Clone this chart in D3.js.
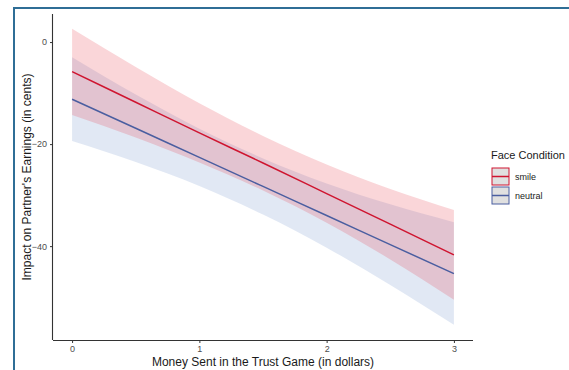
<!DOCTYPE html>
<html>
<head>
<meta charset="utf-8">
<script src="https://cdn.jsdelivr.net/npm/d3@7"></script>
<style>
  html, body { margin: 0; padding: 0; background: #fff; }
  svg { display: block; font-family: "Liberation Sans", Arial, Helvetica, sans-serif; }
</style>
</head>
<body>
<svg id="chart" width="569" height="370"></svg>
<script>
// Money sent (dollars) at which the fitted values and bands are given
const moneySent = [0, 0.5, 1, 1.5, 2, 2.5, 3];

// Fitted impact (cents) per face condition
const smileFit   = [-5.8, -11.8, -17.8, -23.7, -29.7, -35.7, -41.7];
const neutralFit = [-11.2, -16.9, -22.6, -28.3, -34.0, -39.7, -45.4];

// Confidence band bounds (cents)
const smileUpper   = [2.6, -4.9, -12.0, -18.4, -24.0, -28.8, -32.9];
const smileLower   = [-14.3, -18.7, -23.6, -29.1, -35.4, -42.6, -50.5];
const neutralUpper = [-3.0, -10.3, -17.0, -22.8, -27.7, -31.8, -35.3];
const neutralLower = [-19.4, -23.5, -28.2, -33.8, -40.3, -47.6, -55.4];

const xTicks = [0, 1, 2, 3];
const yTicks = [0, -20, -40];
const conditions = ["smile", "neutral"];

const svg = d3.select("#chart");

// outer frame
svg.append("path")
  .attr("d", "M14,371 L14,8 L570,8")
  .attr("fill", "none")
  .attr("stroke", "#2f6e96")
  .attr("stroke-width", 2);

const plot = { left: 53, right: 473, top: 14, bottom: 340 };

const x = d3.scaleLinear().domain([-0.15, 3.15]).range([plot.left, plot.right]);
const y = d3.scaleLinear().domain([-58.4, 5.5]).range([plot.bottom, plot.top]);

const series = [
  { name: "neutral", fit: neutralFit, lo: neutralLower, hi: neutralUpper,
    line: "#4a5ea0", fill: "#5a80c0", fillOpacity: 0.18 },
  { name: "smile", fit: smileFit, lo: smileLower, hi: smileUpper,
    line: "#cf1530", fill: "#e8303f", fillOpacity: 0.2 }
];

const area = d3.area()
  .x((d, i) => x(moneySent[i]))
  .y0(d => y(d[0]))
  .y1(d => y(d[1]))
  .curve(d3.curveMonotoneX);

const line = d3.line()
  .x((d, i) => x(moneySent[i]))
  .y(d => y(d))
  .curve(d3.curveMonotoneX);

series.forEach(s => {
  svg.append("path")
    .datum(s.lo.map((v, i) => [v, s.hi[i]]))
    .attr("d", area)
    .attr("fill", s.fill)
    .attr("fill-opacity", s.fillOpacity);
});
series.forEach(s => {
  svg.append("path")
    .datum(s.fit)
    .attr("d", line)
    .attr("fill", "none")
    .attr("stroke", s.line)
    .attr("stroke-width", 1.5);
});

// axes
const xAxis = d3.axisBottom(x).tickValues(xTicks).tickSize(3).tickPadding(3).tickFormat(d3.format("d"));
const yAxis = d3.axisLeft(y).tickValues(yTicks).tickSize(3).tickPadding(3).tickFormat(d3.format("d"));

const gx = svg.append("g").attr("transform", `translate(0,${plot.bottom})`).call(xAxis);
const gy = svg.append("g").attr("transform", `translate(${plot.left},0)`).call(yAxis);

[gx, gy].forEach(g => {
  g.select(".domain").attr("stroke", "#333").attr("stroke-width", 1.1);
  g.selectAll(".tick line").attr("stroke", "#333").attr("stroke-width", 1);
  g.selectAll(".tick text").attr("fill", "#4d4d4d").style("font-size", "9px")
    .style("font-family", "'Liberation Sans', Arial, sans-serif");
});
// run the axis lines across the whole panel
gx.select(".domain").attr("d", `M${plot.left},0.5H${plot.right}`);
gy.select(".domain").attr("d", `M-0.5,${plot.top}V${plot.bottom}`);

// axis titles
svg.append("text")
  .attr("x", (plot.left + plot.right) / 2)
  .attr("y", 366)
  .attr("text-anchor", "middle")
  .style("font-size", "12px")
  .attr("fill", "#1a1a1a")
  .text("Money Sent in the Trust Game (in dollars)");

svg.append("text")
  .attr("transform", `translate(31,${(plot.top + plot.bottom) / 2}) rotate(-90)`)
  .attr("text-anchor", "middle")
  .style("font-size", "12px")
  .attr("fill", "#1a1a1a")
  .text("Impact on Partner's Earnings (in cents)");

// legend
const legend = svg.append("g").attr("transform", "translate(491,0)");
legend.append("text")
  .attr("x", 0).attr("y", 159)
  .style("font-size", "11px")
  .attr("fill", "#1a1a1a")
  .text("Face Condition");

const legendColors = { smile: series[1], neutral: series[0] };
conditions.forEach((c, i) => {
  const s = legendColors[c];
  const gy0 = 168 + i * 19;
  const k = legend.append("g").attr("transform", `translate(1,${gy0})`);
  k.append("rect").attr("width", 17).attr("height", 17).attr("fill", "#e0e0e0")
    .attr("stroke", s.line).attr("stroke-width", 1);
  k.append("line").attr("x1", 0).attr("x2", 17).attr("y1", 8.5).attr("y2", 8.5)
    .attr("stroke", s.line).attr("stroke-width", 1.5);
  legend.append("text")
    .attr("x", 24).attr("y", gy0 + 12)
    .style("font-size", "9px")
    .attr("fill", "#1a1a1a")
    .text(c);
});
</script>
</body>
</html>
